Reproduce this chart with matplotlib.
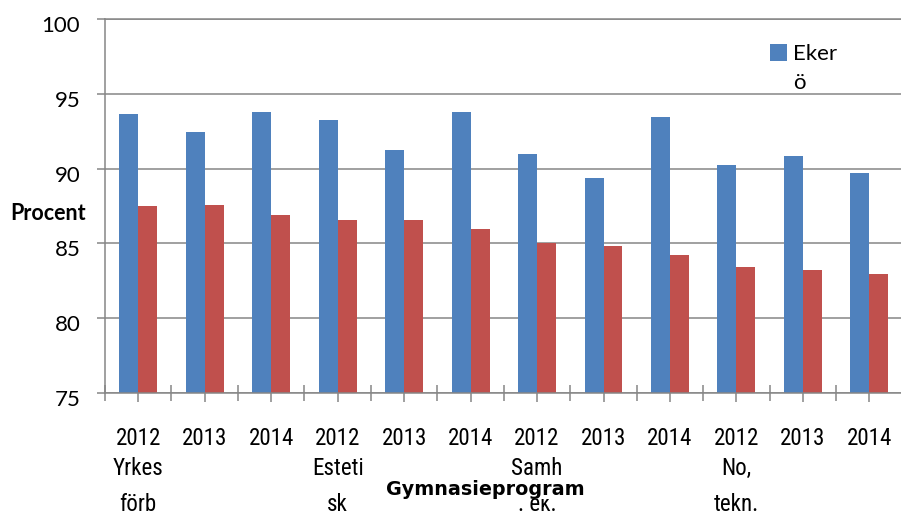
from matplotlib import pyplot as plt
from matplotlib import font_manager
from matplotlib.transforms import ScaledTranslation
import numpy as np

# %% Data

years = ['2012', '2013', '2014'] * 4
programs = ['Yrkes\nförb', 'Esteti\nsk', 'Samh\n. ek.', 'No,\ntekn.']
program_pos = [0, 3, 6, 9]
ekero = [93.67, 92.47, 93.8, 93.27, 91.27, 93.8, 91.0, 89.4, 93.47, 90.27, 90.87, 89.73]
riket = [87.53, 87.6, 86.93, 86.53, 86.53, 85.93, 85.0, 84.8, 84.2, 83.4, 83.2, 82.93]
yticks = [75, 80, 85, 90, 95, 100]

# %% Fonts

def have(name):
    try:
        font_manager.findfont(name, fallback_to_default=False)
        return True
    except ValueError:
        return False

main = 'Lato' if have('Lato') else 'DejaVu Sans'

# a narrow face for the category axis, if there is one
narrow, nsize = None, 16.6
for cand in ['Liberation Sans Narrow', 'Arial Narrow', 'DejaVu Sans Condensed',
             'Roboto Condensed', 'Noto Sans Condensed', 'Open Sans Condensed']:
    if have(cand):
        narrow = font_manager.FontProperties(family=cand)
        break
if narrow is None:
    fp = font_manager.FontProperties(family='DejaVu Sans', stretch='condensed')
    path = font_manager.findfont(fp)
    if 'ondensed' in path:
        narrow = font_manager.FontProperties(fname=path)
        nsize = 15.5
if narrow is None:
    narrow = font_manager.FontProperties(family=main)
    nsize = 14

gray = '#868686'
blue = '#4F81BD'
red = '#C0504D'

# %% Plot

W, H = 901, 511
fig = plt.figure(figsize=(W/100, H/100), dpi=100)
ax = fig.add_axes([105/W, (H-392.7)/H, 797.6/W, 373.4/H])
ax.set_axisbelow(True)

x = np.arange(len(ekero))
w = 0.285
b1 = ax.bar(x-w/2, np.array(ekero)-75, w, bottom=75, color=blue, label='Eker')
b2 = ax.bar(x+w/2, np.array(riket)-75, w, bottom=75, color=red, label='Riket')

ax.set_xlim(-0.5, 11.5)
ax.set_ylim(75, 100)
ax.set_yticks(yticks)
ax.yaxis.grid(True, color=gray, lw=1.1)

ax.set_xticks(np.arange(13)-0.5)
ax.set_xticklabels([])
ax.set_xticks(x, minor=True)
ax.set_xticklabels(years, minor=True)
ax.tick_params(axis='x', which='major', direction='inout', length=12.2, width=1.1, color=gray)
ax.tick_params(axis='x', which='minor', direction='out', length=6.5, width=1.1, color=gray, pad=18)
ax.tick_params(axis='y', direction='out', length=5.8, width=1.1, color=gray, pad=12, labelsize=16)
for lbl in ax.get_xticklabels(minor=True):
    lbl.set_fontproperties(narrow)
    lbl.set_fontsize(nsize)
for lbl in ax.get_yticklabels():
    lbl.set_fontfamily(main)
    lbl.set_transform(lbl.get_transform() + ScaledTranslation(0, -0.05, fig.dpi_scale_trans))

ax.spines['right'].set_visible(False)
for s in ['left', 'bottom', 'top']:
    ax.spines[s].set_color(gray)
    ax.spines[s].set_linewidth(1.1)

for p, name in zip(program_pos, programs):
    t = ax.text(p, -0.172, name, transform=ax.get_xaxis_transform(), ha='center', va='top',
                linespacing=1.75, zorder=0.1, clip_on=False)
    t.set_fontproperties(narrow)
    t.set_fontsize(nsize)

ax.set_xlabel('Gymnasieprogram', fontsize=13.8, fontweight='bold', family='DejaVu Sans',
              bbox=dict(facecolor='white', edgecolor='none', pad=0))
ax.xaxis.set_label_coords((485-105)/797.6, (392.7-489)/373.4)
ax.xaxis.label.set_va('center')
ax.set_ylabel('Procent', fontsize=15.5, fontweight='bold', family=main, rotation=0,
              ha='center', va='center')
ax.yaxis.set_label_coords((48.5-105)/797.6, (392.7-213)/373.4)

ax.legend([b1], ['Eker'], loc='upper left', bbox_to_anchor=(770/W, 1-44/H),
          bbox_transform=fig.transFigure, frameon=False, borderpad=0, borderaxespad=0,
          handlelength=17/22.2, handleheight=17/22.2, handletextpad=6/22.2,
          prop=dict(family=main, size=16))
fig.text(793/W, 1-89/H, 'ö', fontsize=16, family=main, va='baseline')

fig.savefig('out.png', dpi=100)
